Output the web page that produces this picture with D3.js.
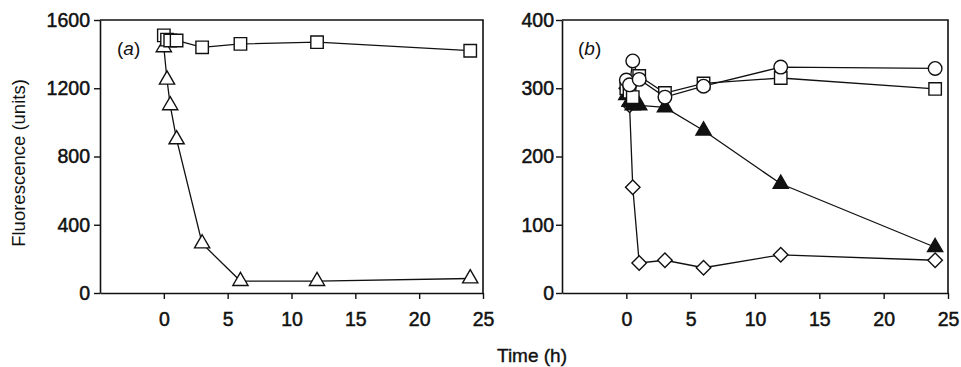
<!DOCTYPE html>
<html><head><meta charset="utf-8">
<script src="https://cdn.jsdelivr.net/npm/d3@7"></script>
<style>
body{margin:0;background:#fff;}
svg text{font-family:"Liberation Sans",Arial,sans-serif;fill:#111;}
</style></head>
<body><svg id="c" width="961" height="367"></svg>
<script>
// Panel (a)
const aSquares = [[0,1510],[0.25,1485],[0.5,1480],[1,1480],[3,1440],[6,1460],[12,1470],[24,1420]];
const aTriangles = [[0,1440],[0.25,1250],[0.5,1100],[1,900],[3,290],[6,70],[12,70],[24,85]];
// Panel (b)
const bCircles = [[0,312],[0.25,305],[0.5,340],[1,313],[3,287],[6,303],[12,331],[24,329]];
const bSquares = [[0,300],[0.25,295],[0.5,287],[1,318],[3,293],[6,307],[12,315],[24,299]];
const bFilledTri = [[0,290],[0.25,280],[0.5,275],[1,275],[3,272],[6,238],[12,160],[24,67]];
const bDiamonds = [[0,300],[0.25,275],[0.5,155],[1,44],[3,48],[6,37],[12,56],[24,48]];
const xTicks = [0,5,10,15,20,25];
const aYTicks = [0,400,800,1200,1600];
const bYTicks = [0,100,200,300,400];

const svg = d3.select("#c");

function panel(opts){
  const x = d3.scaleLinear().domain([-5,25]).range([opts.left, opts.right]);
  const y = d3.scaleLinear().domain([0, opts.ymax]).range([293, 20]);
  const g = svg.append("g");
  g.append("path").attr("d", `M${opts.left},20H${opts.right}V293`)
    .attr("fill","none").attr("stroke","#111").attr("stroke-width",1.6);
  const ya = g.append("g").attr("transform",`translate(${opts.left},0)`)
    .call(d3.axisLeft(y).tickValues(opts.yTicks).tickFormat(d3.format("d")).tickSize(6).tickPadding(opts.ypad).tickSizeOuter(0));
  const xa = g.append("g").attr("transform",`translate(0,293)`)
    .call(d3.axisBottom(x).tickValues(xTicks).tickFormat(d3.format("d")).tickSize(6).tickPadding(13).tickSizeOuter(0));
  [ya,xa].forEach(a=>{
    a.select(".domain").attr("stroke","#111").attr("stroke-width",1.6);
    a.selectAll(".tick line").attr("stroke","#111").attr("stroke-width",1.4);
    a.selectAll("text").style("font-size","19.5px").attr("fill","#111")
      .attr("stroke","#111").attr("stroke-width",0.5);
  });
  g.append("text").attr("x",opts.labelX).attr("y",55)
    .style("font-size","19px").attr("fill","#111")
    .html(`(<tspan font-style="italic">${opts.label}</tspan>)`);
  const line = d3.line().x(d=>x(d[0])).y(d=>y(d[1]));
  opts.series.forEach(s=>{
    g.append("path").datum(s.data).attr("d",line).attr("fill","none")
      .attr("stroke","#111").attr("stroke-width",1.3);
  });
  opts.series.forEach(s=>{
    const sym = d3.symbol().type(s.type).size(s.size);
    g.selectAll(null).data(s.data).enter().append("path")
      .attr("d",sym)
      .attr("transform",d=>`translate(${x(d[0])},${y(d[1])})${s.rot?" rotate(45)":""}`)
      .attr("fill",s.fill).attr("stroke","#111").attr("stroke-width",1.4);
  });
}

panel({left:100,right:483,ymax:1600,yTicks:aYTicks,ypad:4,label:"a",labelX:117,
  series:[
    {data:aTriangles,type:d3.symbolTriangle,size:100,fill:"#fff"},
    {data:aSquares,type:d3.symbolSquare,size:155,fill:"#fff"}
  ]});
panel({left:562,right:948,ymax:400,yTicks:bYTicks,ypad:2,label:"b",labelX:578,
  series:[
    {data:bDiamonds,type:d3.symbolSquare,size:105,fill:"#fff",rot:true},
    {data:bFilledTri,type:d3.symbolTriangle,size:100,fill:"#111"},
    {data:bSquares,type:d3.symbolSquare,size:155,fill:"#fff"},
    {data:bCircles,type:d3.symbolCircle,size:145,fill:"#fff"}
  ]});

svg.append("text").attr("transform","translate(25,163) rotate(-90)")
  .attr("text-anchor","middle").attr("fill","#111").style("font-size","18.5px").text("Fluorescence (units)");
svg.append("text").attr("x",532).attr("y",362)
  .attr("text-anchor","middle").attr("fill","#111").style("font-size","19px")
  .attr("stroke","#111").attr("stroke-width",0.4).text("Time (h)");
</script></body></html>
